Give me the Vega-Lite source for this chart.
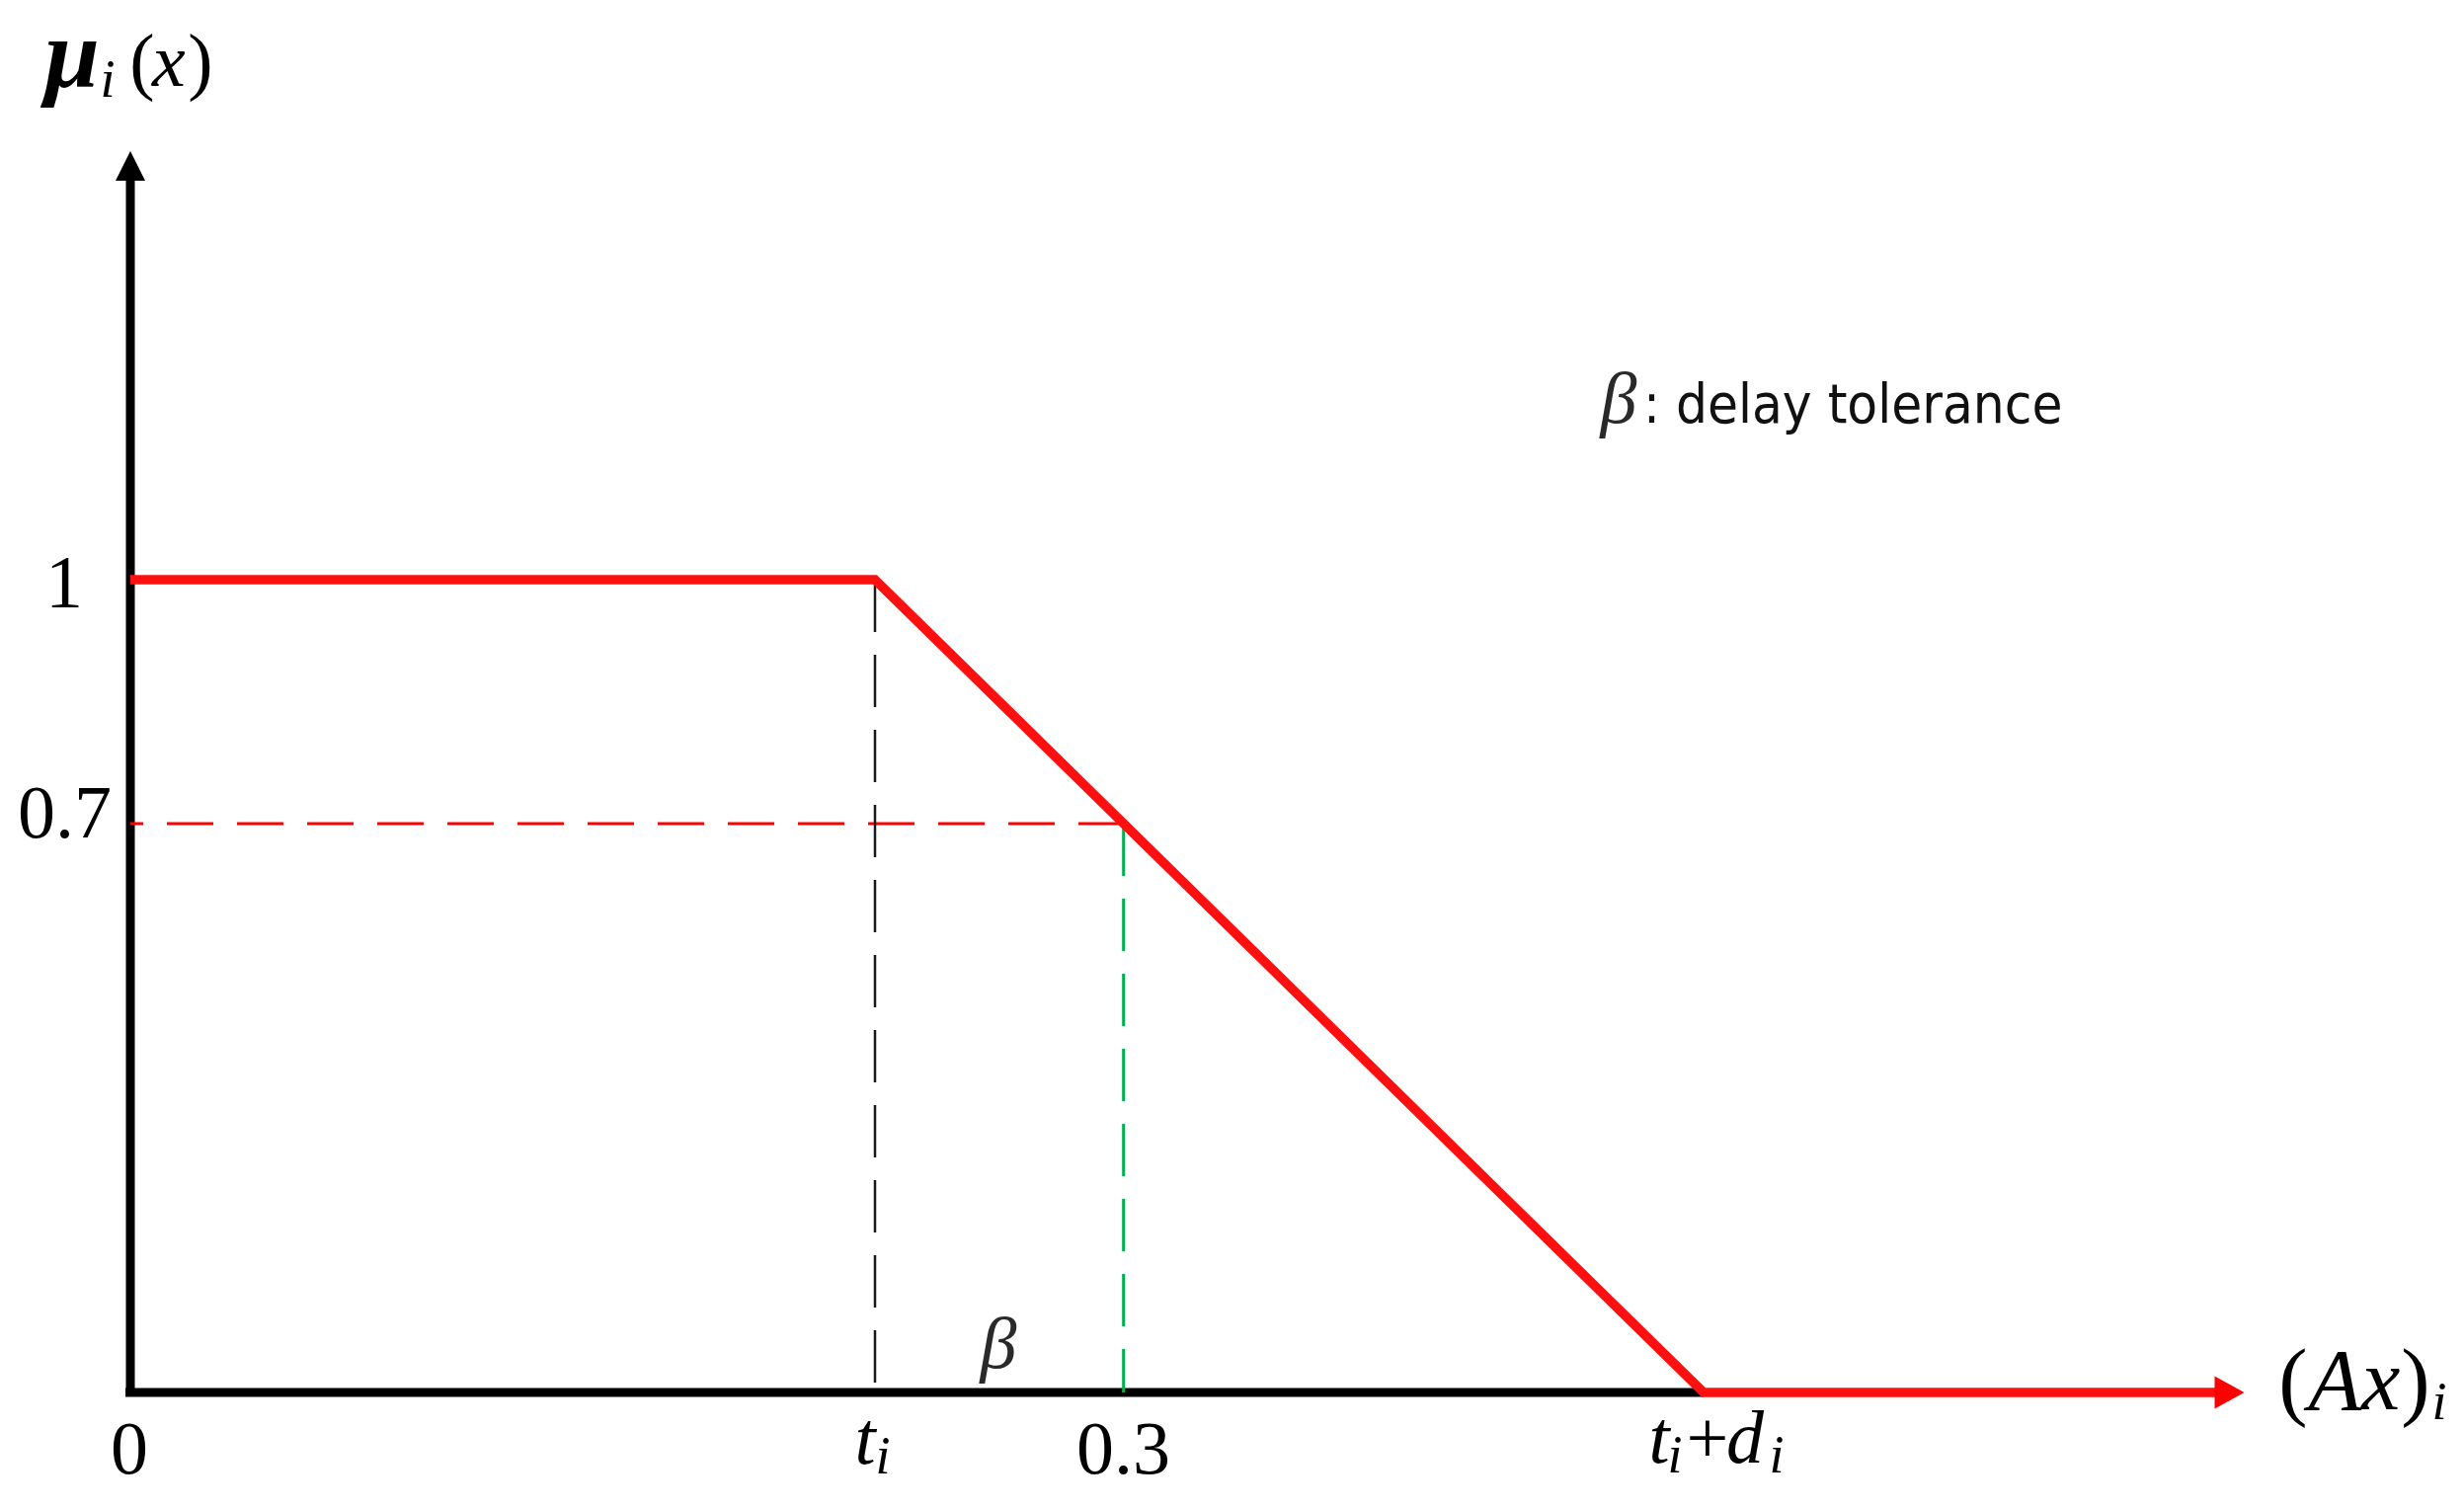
{
  "$schema": "https://vega.github.io/schema/vega-lite/v6.json",
  "width": 2495,
  "height": 1528,
  "padding": 0,
  "autosize": {"type": "none"},
  "background": "white",
  "config": {"view": {"stroke": null}},
  "datasets": {
    "axes": [
      {"x": -0.0066, "y": 0, "x2": 2.1127, "y2": 0},
      {"x": 0, "y": -0.0049, "x2": 0, "y2": 1.4909}
    ],
    "redDash": [{"x": 0, "y": 0.7, "x2": 1.3338, "y2": 0.7}],
    "blackDash": [{"x": 1, "y": 1, "x2": 1, "y2": 0}],
    "greenDash": [{"x": 1.3338, "y": 0.7, "x2": 1.3338, "y2": 0}],
    "membership": [
      {"x": 0, "y": 1},
      {"x": 1, "y": 1},
      {"x": 2.1127, "y": 0},
      {"x": 2.8024, "y": 0}
    ],
    "arrowUp": [{"x": 0, "y": 1.5091}],
    "arrowRight": [{"x": 2.819, "y": 0}],
    "up76": [
      {"text": "1", "x": -0.0889, "y": 0.966},
      {"text": "0.7", "x": -0.0882, "y": 0.6829},
      {"text": "0", "x": -0.0013, "y": -0.0996},
      {"text": "0.3", "x": 1.3336, "y": -0.0996},
      {"text": "+", "x": 2.118, "y": -0.0863},
      {"text": "(", "x": 0.0159, "y": 1.6075},
      {"text": ")", "x": 0.0942, "y": 1.6075}
    ],
    "it76": [
      {"text": "t", "x": 0.9867, "y": -0.0875},
      {"text": "t", "x": 2.0531, "y": -0.0863},
      {"text": "d", "x": 2.1685, "y": -0.0863},
      {"text": "x", "x": 0.0517, "y": 1.6075}
    ],
    "up88": [
      {"text": "(", "x": 2.9045, "y": -0.0207},
      {"text": ")", "x": 3.069, "y": -0.0207}
    ],
    "it88": [
      {"text": "Ax", "x": 2.9867, "y": -0.0207}
    ],
    "subs": [
      {"text": "i", "x": 1.0106, "y": -0.0996},
      {"text": "i", "x": 2.0743, "y": -0.0984},
      {"text": "i", "x": 2.2108, "y": -0.0984},
      {"text": "i", "x": 3.1008, "y": -0.0328},
      {"text": "i", "x": -0.0305, "y": 1.5942}
    ],
    "mu": [{"text": "μ", "x": -0.0782, "y": 1.6063}],
    "beta": [
      {"text": "β", "x": 1.1658, "y": 0.0304},
      {"text": "β", "x": 1.9987, "y": 1.1932}
    ],
    "legend": [{"text": ": delay tolerance", "x": 2.0318, "y": 1.1932}]
  },
  "encoding": {
    "x": {"field": "x", "type": "quantitative", "scale": {"domain": [-0.175066, 3.133952], "nice": false, "zero": false}, "axis": null},
    "y": {"field": "y", "type": "quantitative", "scale": {"domain": [-0.143378, 1.713244], "nice": false, "zero": false}, "axis": null}
  },
  "layer": [
    {
      "data": {"name": "axes"},
      "mark": {"type": "rule", "color": "#000000", "strokeWidth": 9, "strokeCap": "butt"},
      "encoding": {"x2": {"field": "x2"}, "y2": {"field": "y2"}}
    },
    {
      "data": {"name": "redDash"},
      "mark": {"type": "rule", "color": "#ff0000", "strokeWidth": 3, "strokeDash": [47, 24], "strokeDashOffset": 34},
      "encoding": {"x2": {"field": "x2"}, "y2": {"field": "y2"}}
    },
    {
      "data": {"name": "blackDash"},
      "mark": {"type": "rule", "color": "#1a1a1a", "strokeWidth": 2.5, "strokeDash": [53, 23]},
      "encoding": {"x2": {"field": "x2"}, "y2": {"field": "y2"}}
    },
    {
      "data": {"name": "greenDash"},
      "mark": {"type": "rule", "color": "#00b050", "strokeWidth": 3, "strokeDash": [53, 23]},
      "encoding": {"x2": {"field": "x2"}, "y2": {"field": "y2"}}
    },
    {
      "data": {"name": "membership"},
      "mark": {"type": "line", "color": "#ff1010", "strokeWidth": 9.5, "strokeJoin": "miter", "strokeCap": "butt"},
      "encoding": {}
    },
    {
      "data": {"name": "arrowUp"},
      "mark": {"type": "point", "shape": "M0,-1L-1,1L1,1Z", "size": 900, "filled": true, "color": "#000000", "opacity": 1, "strokeWidth": 0}
    },
    {
      "data": {"name": "arrowRight"},
      "mark": {"type": "point", "shape": "M1,0L-1,-1.1L-1,1.1Z", "size": 900, "filled": true, "color": "#ff0000", "opacity": 1, "strokeWidth": 0}
    },
    {
      "data": {"name": "up76"},
      "mark": {"type": "text", "font": "Liberation Serif", "fontSize": 76, "align": "center", "baseline": "alphabetic", "color": "#000000"},
      "encoding": {"text": {"field": "text"}}
    },
    {
      "data": {"name": "it76"},
      "mark": {"type": "text", "font": "Liberation Serif", "fontSize": 76, "fontStyle": "italic", "align": "center", "baseline": "alphabetic", "color": "#000000"},
      "encoding": {"text": {"field": "text"}}
    },
    {
      "data": {"name": "up88"},
      "mark": {"type": "text", "font": "Liberation Serif", "fontSize": 88, "align": "center", "baseline": "alphabetic", "color": "#000000"},
      "encoding": {"text": {"field": "text"}}
    },
    {
      "data": {"name": "it88"},
      "mark": {"type": "text", "font": "Liberation Serif", "fontSize": 88, "fontStyle": "italic", "align": "center", "baseline": "alphabetic", "color": "#000000"},
      "encoding": {"text": {"field": "text"}}
    },
    {
      "data": {"name": "subs"},
      "mark": {"type": "text", "font": "Liberation Serif", "fontSize": 54, "fontStyle": "italic", "align": "center", "baseline": "alphabetic", "color": "#000000"},
      "encoding": {"text": {"field": "text"}}
    },
    {
      "data": {"name": "mu"},
      "mark": {"type": "text", "font": "Liberation Serif", "fontSize": 100, "fontStyle": "italic", "fontWeight": "bold", "align": "center", "baseline": "alphabetic", "color": "#000000"},
      "encoding": {"text": {"field": "text"}}
    },
    {
      "data": {"name": "beta"},
      "mark": {"type": "text", "font": "Liberation Serif", "fontSize": 74, "fontStyle": "italic", "align": "center", "baseline": "alphabetic", "color": "#2a2a2a"},
      "encoding": {"text": {"field": "text"}}
    },
    {
      "data": {"name": "legend"},
      "mark": {"type": "text", "font": "Liberation Sans Narrow, DejaVu Sans Condensed, DejaVu Sans", "fontSize": 56, "align": "left", "baseline": "alphabetic", "color": "#111111"},
      "encoding": {"text": {"field": "text"}}
    }
  ]
}
